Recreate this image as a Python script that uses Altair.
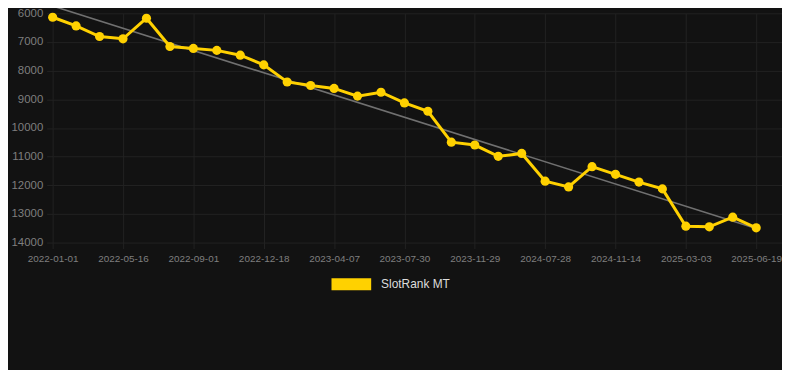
import altair as alt
import pandas as pd

# Tick labels (every third observation)
tick_labels = ["2022-01-01", "2022-05-16", "2022-09-01", "2022-12-18", "2023-04-07",
               "2023-07-30", "2023-11-29", "2024-07-28", "2024-11-14", "2025-03-03",
               "2025-06-19"]

# SlotRank MT values (31 observations)
ranks = [6135, 6438, 6809, 6888, 6169, 7157, 7224, 7292, 7460, 7798,
         8394, 8518, 8620, 8888, 8753, 9126, 9416, 10495, 10596, 10990,
         10889, 11856, 12058, 11350, 11618, 11888, 12126, 13428, 13451, 13114,
         13485]

series_name = "SlotRank MT"

df = pd.DataFrame({"idx": list(range(len(ranks))), "rank": ranks, "series": series_name})

label_array = "[" + ",".join("'" + t + "'" for t in tick_labels) + "]"

YELLOW = "#FFD100"
BG = "#121212"
GRID = "#222222"

x_enc = alt.X(
    "idx:Q",
    scale=alt.Scale(domain=[0, 31.1], nice=False, zero=False),
    axis=alt.Axis(
        values=list(range(0, 31, 3)),
        tickCount=11,
        labelExpr=label_array + "[round(datum.value / 3)]",
        title=None,
        grid=True,
        gridColor=GRID,
        domain=False,
        tickColor=GRID,
        tickSize=6,
        labelColor="#7f7f7f",
        labelFontSize=10,
        labelFont="Liberation Sans",
        labelPadding=5,
        labelOverlap=False,
        labelFlush=False,
    ),
)
y_enc = alt.Y(
    "rank:Q",
    scale=alt.Scale(domain=[6000, 14000], reverse=True, nice=False, zero=False),
    axis=alt.Axis(
        values=list(range(6000, 14001, 1000)),
        tickCount=9,
        format="d",
        title=None,
        grid=True,
        gridColor=GRID,
        domain=False,
        tickColor=GRID,
        tickSize=6,
        labelColor="#7f7f7f",
        labelFontSize=11.5,
        labelFont="Liberation Sans",
        labelPadding=4,
        labelOverlap=False,
        labelFlush=False,
    ),
)

base = alt.Chart(df)

trend = base.transform_regression("idx", "rank").mark_line(
    color="#707070", strokeWidth=1.6
).encode(x="idx:Q", y="rank:Q")

line = base.mark_line(strokeWidth=3).encode(
    x=x_enc,
    y=y_enc,
    color=alt.Color(
        "series:N",
        scale=alt.Scale(domain=[series_name], range=[YELLOW]),
        legend=alt.Legend(
            title=None,
            orient="none",
            legendX=281,
            legendY=253,
            symbolType="M-1,-0.3H1V0.3H-1Z",
            symbolSize=1600,
            symbolStrokeWidth=0,
            labelColor="#dddddd",
            labelFontSize=12,
            labelFont="Liberation Sans",
            padding=0,
            labelOffset=10,
        ),
    ),
)

points = base.mark_point(filled=True, size=85, opacity=1).encode(
    x="idx:Q",
    y="rank:Q",
    color=alt.Color("series:N", scale=alt.Scale(domain=[series_name], range=[YELLOW]), legend=None),
)

chart = alt.layer(trend, line, points).properties(
    width=735,
    height=231,
    background=BG,
    padding={"left": 45, "top": 4, "right": 0, "bottom": 127},
    autosize=alt.AutoSizeParams(type="none"),
).configure_view(stroke=None)

chart.save("out.html", embed_options={"renderer": "svg", "actions": False})
